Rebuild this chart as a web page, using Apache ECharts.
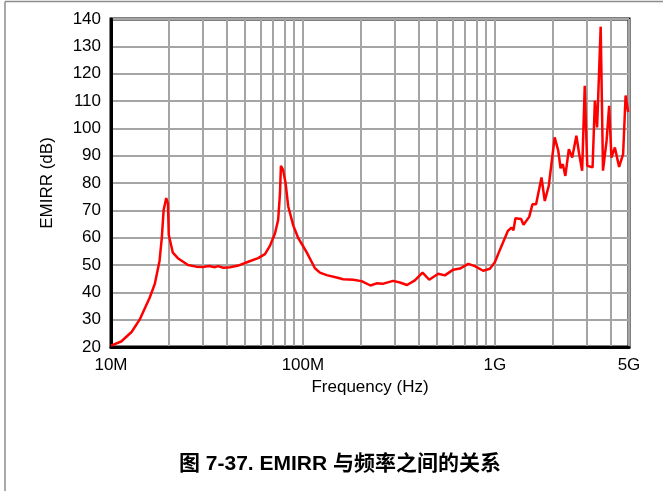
<!DOCTYPE html>
<html>
<head>
<meta charset="utf-8">
<script src="https://cdn.jsdelivr.net/npm/echarts@6/dist/echarts.min.js"></script>
<style>
  html, body { margin: 0; padding: 0; background: #fff; }
  #chart { width: 663px; height: 491px; }
</style>
</head>
<body>
<div id="chart"></div>
<script>
// 频率 (MHz)
const freqMHz = [
  10, 11.3, 12.8, 14.1, 15.9, 16.9, 17.9, 18.4, 18.8, 19.4, 19.8, 20.0, 21.0, 22.3, 25.2, 27.8,
  30.1, 32.5, 34.8, 36.1, 38.5, 41.7, 46.0, 51.9, 58.4, 63.4, 67.3, 71.5, 74.3, 75.9, 76.8, 78.9,
  81.3, 83.8, 89.0, 94.6, 99, 104.5, 115.5, 122.6, 132.9, 149.8, 162, 183, 202, 225, 242, 260,
  295, 320, 349, 383, 420, 455, 507, 549, 607, 658, 727, 787, 869, 942, 1000, 1066, 1170, 1220,
  1250, 1280, 1370, 1410, 1510, 1570, 1640, 1750, 1820, 1910, 2050, 2140, 2200, 2260, 2330, 2430,
  2530, 2660, 2750, 2850, 2940, 3030, 3100, 3230, 3320, 3410, 3560, 3660, 3820, 3940, 4050, 4220,
  4440, 4660, 4800, 4950
];
// EMIRR (dB)
const emirrDb = [
  20.5, 22.0, 25.5, 30.0, 38.0, 43.0, 51.5, 60.0, 70.0, 74.5, 72.5, 61.0, 54.5, 52.5, 50.0, 49.4,
  49.3, 49.6, 49.2, 49.6, 49.0, 49.2, 49.8, 51.2, 52.5, 54.0, 57.0, 61.5, 66.5, 76.0, 86.3, 84.7,
  79.8, 71.5, 64.5, 59.8, 57.5, 54.7, 48.8, 47.2, 46.3, 45.4, 44.8, 44.6, 44.1, 42.5, 43.3, 43.1,
  44.2, 43.6, 42.7, 44.4, 47.2, 44.6, 46.8, 46.2, 48.3, 48.7, 50.4, 49.6, 47.9, 48.6, 51.0, 55.8, 62.5, 63.7,
  62.7, 67.1, 66.8, 64.7, 67.6, 72.2, 72.2, 82.0, 73.4, 79.0, 96.7, 91.8, 85.4, 86.9, 82.6, 92.4,
  89.3, 97.3, 90.6, 84.5, 115.6, 86.3, 85.7, 85.7, 110.1, 100.3, 137.2, 84.5, 95.4, 108.2, 89.3, 93.0,
  85.9, 90.6, 112.0, 106.0
];

const FONT = 'Liberation Sans, Arial, Helvetica, sans-serif';
const GRID_COLOR = '#a5a5a5';

const chart = echarts.init(document.getElementById('chart'));
chart.setOption({
  animation: false,
  title: {
    text: '图 7-37. EMIRR 与频率之间的关系',
    left: 335,
    top: 449,
    textAlign: 'center',
    textStyle: {
      fontSize: 21,
      fontWeight: 'bold',
      color: '#000',
      fontFamily: 'Liberation Sans, "Noto Sans CJK SC", sans-serif'
    }
  },
  graphic: [
    { type: 'line', shape: { x1: 5, y1: 1.5, x2: 663, y2: 1.5 }, style: { stroke: '#8c8c8c', lineWidth: 1.5 } },
    { type: 'line', shape: { x1: 5, y1: 1.5, x2: 5, y2: 491 }, style: { stroke: '#8c8c8c', lineWidth: 1.5 } }
  ],
  grid: {
    left: 111,
    right: 34,
    top: 19,
    bottom: 144,
    show: true,
    borderColor: '#000',
    borderWidth: 3
  },
  xAxis: {
    type: 'log',
    logBase: 10,
    min: 10,
    max: 5000,
    name: 'Frequency (Hz)',
    nameLocation: 'middle',
    nameGap: 31,
    nameTextStyle: { fontSize: 17, color: '#000', fontFamily: FONT },
    axisLine: { lineStyle: { color: '#000', width: 3 } },
    axisTick: { show: false },
    axisLabel: {
      fontSize: 17,
      color: '#000',
      fontFamily: FONT,
      margin: 10,
      formatter: function (v) {
        return v >= 1000 ? Math.round(v / 1000) + 'G' : Math.round(v) + 'M';
      }
    },
    splitLine: { show: true, lineStyle: { color: GRID_COLOR, width: 2 } },
    minorTick: { show: false, splitNumber: 9 },
    minorSplitLine: { show: true, lineStyle: { color: GRID_COLOR, width: 2 } }
  },
  yAxis: {
    type: 'value',
    min: 20,
    max: 140,
    interval: 10,
    name: 'EMIRR (dB)',
    nameLocation: 'middle',
    nameGap: 55,
    nameTextStyle: { fontSize: 17, color: '#000', fontFamily: FONT },
    axisLine: { show: true, lineStyle: { color: '#000', width: 3 } },
    axisTick: { show: false },
    axisLabel: { fontSize: 17, color: '#000', fontFamily: FONT, margin: 10 },
    splitLine: { show: true, lineStyle: { color: GRID_COLOR, width: 2 } }
  },
  series: [
    {
      type: 'line',
      data: freqMHz.map(function (f, i) { return [f, emirrDb[i]]; }),
      showSymbol: false,
      smooth: false,
      z: 5,
      lineStyle: { color: '#ff0000', width: 2.5 }
    }
  ]
});
</script>
</body>
</html>
